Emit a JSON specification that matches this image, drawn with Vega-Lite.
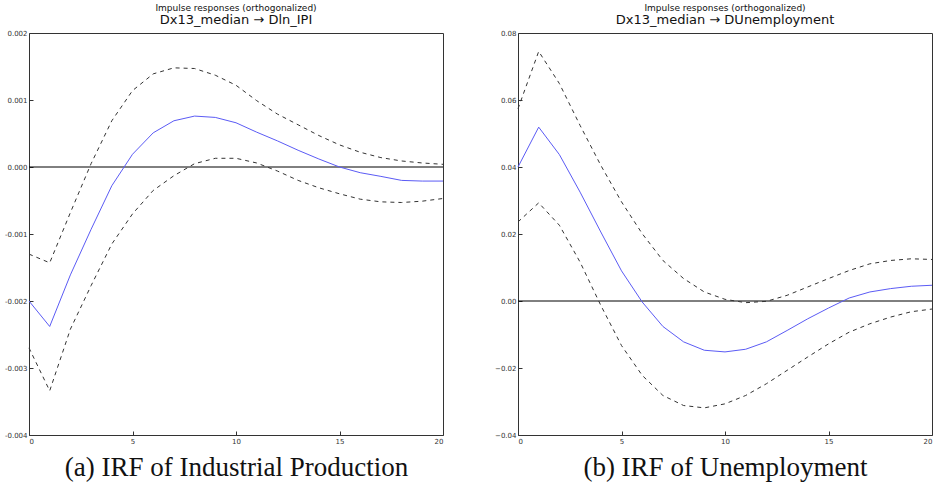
{
  "$schema": "https://vega.github.io/schema/vega-lite/v6.json",
  "background": "white",
  "padding": {"left": 3, "top": 3, "right": 3, "bottom": 4},
  "spacing": 75,
  "bounds": "flush",
  "datasets": {
    "ipi": [
      {"h": 0, "irf": -0.0020, "lo": -0.00270, "hi": -0.00130},
      {"h": 1, "irf": -0.00238, "lo": -0.00334, "hi": -0.00143},
      {"h": 2, "irf": -0.00161, "lo": -0.00242, "hi": -0.00068},
      {"h": 3, "irf": -0.00093, "lo": -0.00177, "hi": 0.00005},
      {"h": 4, "irf": -0.00028, "lo": -0.00115, "hi": 0.00069},
      {"h": 5, "irf": 0.00019, "lo": -0.00070, "hi": 0.00114},
      {"h": 6, "irf": 0.00051, "lo": -0.00035, "hi": 0.00139},
      {"h": 7, "irf": 0.00069, "lo": -0.00013, "hi": 0.00148},
      {"h": 8, "irf": 0.00076, "lo": 0.00005, "hi": 0.00147},
      {"h": 9, "irf": 0.00074, "lo": 0.00013, "hi": 0.00137},
      {"h": 10, "irf": 0.00066, "lo": 0.00013, "hi": 0.00122},
      {"h": 11, "irf": 0.00052, "lo": 0.00006, "hi": 0.00099},
      {"h": 12, "irf": 0.00039, "lo": -0.00006, "hi": 0.00079},
      {"h": 13, "irf": 0.00025, "lo": -0.00020, "hi": 0.00063},
      {"h": 14, "irf": 0.00012, "lo": -0.00031, "hi": 0.00047},
      {"h": 15, "irf": 0.00000, "lo": -0.00040, "hi": 0.00033},
      {"h": 16, "irf": -0.000085, "lo": -0.00048, "hi": 0.00022},
      {"h": 17, "irf": -0.00014, "lo": -0.00052, "hi": 0.00014},
      {"h": 18, "irf": -0.00020, "lo": -0.00053, "hi": 0.00009},
      {"h": 19, "irf": -0.00021, "lo": -0.00051, "hi": 0.00006},
      {"h": 20, "irf": -0.00021, "lo": -0.00047, "hi": 0.00004}
    ],
    "unemp": [
      {"h": 0, "irf": 0.0400, "lo": 0.0236, "hi": 0.0574},
      {"h": 1, "irf": 0.0519, "lo": 0.0293, "hi": 0.0745},
      {"h": 2, "irf": 0.0437, "lo": 0.0226, "hi": 0.0649},
      {"h": 3, "irf": 0.0325, "lo": 0.0116, "hi": 0.0524},
      {"h": 4, "irf": 0.0206, "lo": -0.0013, "hi": 0.0405},
      {"h": 5, "irf": 0.0090, "lo": -0.0133, "hi": 0.0296},
      {"h": 6, "irf": -0.0003, "lo": -0.0222, "hi": 0.0201},
      {"h": 7, "irf": -0.0076, "lo": -0.0282, "hi": 0.0121},
      {"h": 8, "irf": -0.0122, "lo": -0.0312, "hi": 0.0067},
      {"h": 9, "irf": -0.0147, "lo": -0.0319, "hi": 0.0027},
      {"h": 10, "irf": -0.0152, "lo": -0.0307, "hi": 0.0005},
      {"h": 11, "irf": -0.0144, "lo": -0.0282, "hi": -0.0005},
      {"h": 12, "irf": -0.0122, "lo": -0.0247, "hi": -0.0001},
      {"h": 13, "irf": -0.0088, "lo": -0.0207, "hi": 0.0017},
      {"h": 14, "irf": -0.0053, "lo": -0.0167, "hi": 0.0042},
      {"h": 15, "irf": -0.0021, "lo": -0.0128, "hi": 0.0067},
      {"h": 16, "irf": 0.0009, "lo": -0.0093, "hi": 0.0091},
      {"h": 17, "irf": 0.0027, "lo": -0.0068, "hi": 0.0111},
      {"h": 18, "irf": 0.0037, "lo": -0.0048, "hi": 0.0121},
      {"h": 19, "irf": 0.0044, "lo": -0.0032, "hi": 0.0126},
      {"h": 20, "irf": 0.0047, "lo": -0.0024, "hi": 0.0124}
    ]
  },
  "config": {
    "view": {"stroke": "#333333", "strokeWidth": 1},
    "axis": {
      "grid": false,
      "domain": false,
      "labelFont": "DejaVu Sans",
      "labelFontSize": 7,
      "labelColor": "#333333",
      "tickColor": "#333333",
      "tickSize": -4,
      "labelPadding": 6,
      "titleFont": "Liberation Serif",
      "titleFontWeight": "normal",
      "titleFontSize": 27,
      "titleColor": "#111111"
    },
    "title": {
      "font": "DejaVu Sans",
      "fontSize": 9,
      "fontWeight": "normal",
      "color": "#111111",
      "subtitleFont": "DejaVu Sans",
      "subtitleFontSize": 13,
      "subtitleColor": "#111111",
      "subtitlePadding": 1,
      "offset": 2,
      "anchor": "middle"
    }
  },
  "hconcat": [
    {
      "width": 414,
      "height": 402,
      "title": {"text": "Impulse responses (orthogonalized)", "subtitle": "Dx13_median → Dln_IPI"},
      "data": {"name": "ipi"},
      "encoding": {
        "x": {"field": "h", "type": "quantitative", "scale": {"domain": [0, 20], "nice": false},
          "axis": {"values": [0, 5, 10, 15, 20], "title": "(a) IRF of Industrial Production", "titlePadding": 10}}
      },
      "layer": [
        {"mark": {"type": "rule", "color": "#000000", "strokeWidth": 1}, "data": {"values": [{"z": 0}]},
          "encoding": {"x": null, "y": {"field": "z", "type": "quantitative"}}},
        {"mark": {"type": "line", "color": "#333333", "strokeWidth": 1, "strokeDash": [4, 4]},
          "encoding": {"y": {"field": "hi", "type": "quantitative"}}},
        {"mark": {"type": "line", "color": "#333333", "strokeWidth": 1, "strokeDash": [4, 4]},
          "encoding": {"y": {"field": "lo", "type": "quantitative"}}},
        {"mark": {"type": "line", "color": "#5b5bf5", "strokeWidth": 1},
          "encoding": {"y": {"field": "irf", "type": "quantitative", "scale": {"domain": [-0.004, 0.002], "nice": false},
            "axis": {"values": [-0.004, -0.003, -0.002, -0.001, 0, 0.001, 0.002], "title": null,
              "labelExpr": "replace(format(datum.value, '.3f'), '−', '-')"}}}}
      ]
    },
    {
      "width": 414,
      "height": 402,
      "title": {"text": "Impulse responses (orthogonalized)", "subtitle": "Dx13_median → DUnemployment"},
      "data": {"name": "unemp"},
      "encoding": {
        "x": {"field": "h", "type": "quantitative", "scale": {"domain": [0, 20], "nice": false},
          "axis": {"values": [0, 5, 10, 15, 20], "title": "(b) IRF of Unemployment", "titlePadding": 10}}
      },
      "layer": [
        {"mark": {"type": "rule", "color": "#000000", "strokeWidth": 1}, "data": {"values": [{"z": 0}]},
          "encoding": {"x": null, "y": {"field": "z", "type": "quantitative"}}},
        {"mark": {"type": "line", "color": "#333333", "strokeWidth": 1, "strokeDash": [4, 4]},
          "encoding": {"y": {"field": "hi", "type": "quantitative"}}},
        {"mark": {"type": "line", "color": "#333333", "strokeWidth": 1, "strokeDash": [4, 4]},
          "encoding": {"y": {"field": "lo", "type": "quantitative"}}},
        {"mark": {"type": "line", "color": "#5b5bf5", "strokeWidth": 1},
          "encoding": {"y": {"field": "irf", "type": "quantitative", "scale": {"domain": [-0.04, 0.08], "nice": false},
            "axis": {"values": [-0.04, -0.02, 0, 0.02, 0.04, 0.06, 0.08], "title": null, "format": ".2f"}}}}
      ]
    }
  ]
}
